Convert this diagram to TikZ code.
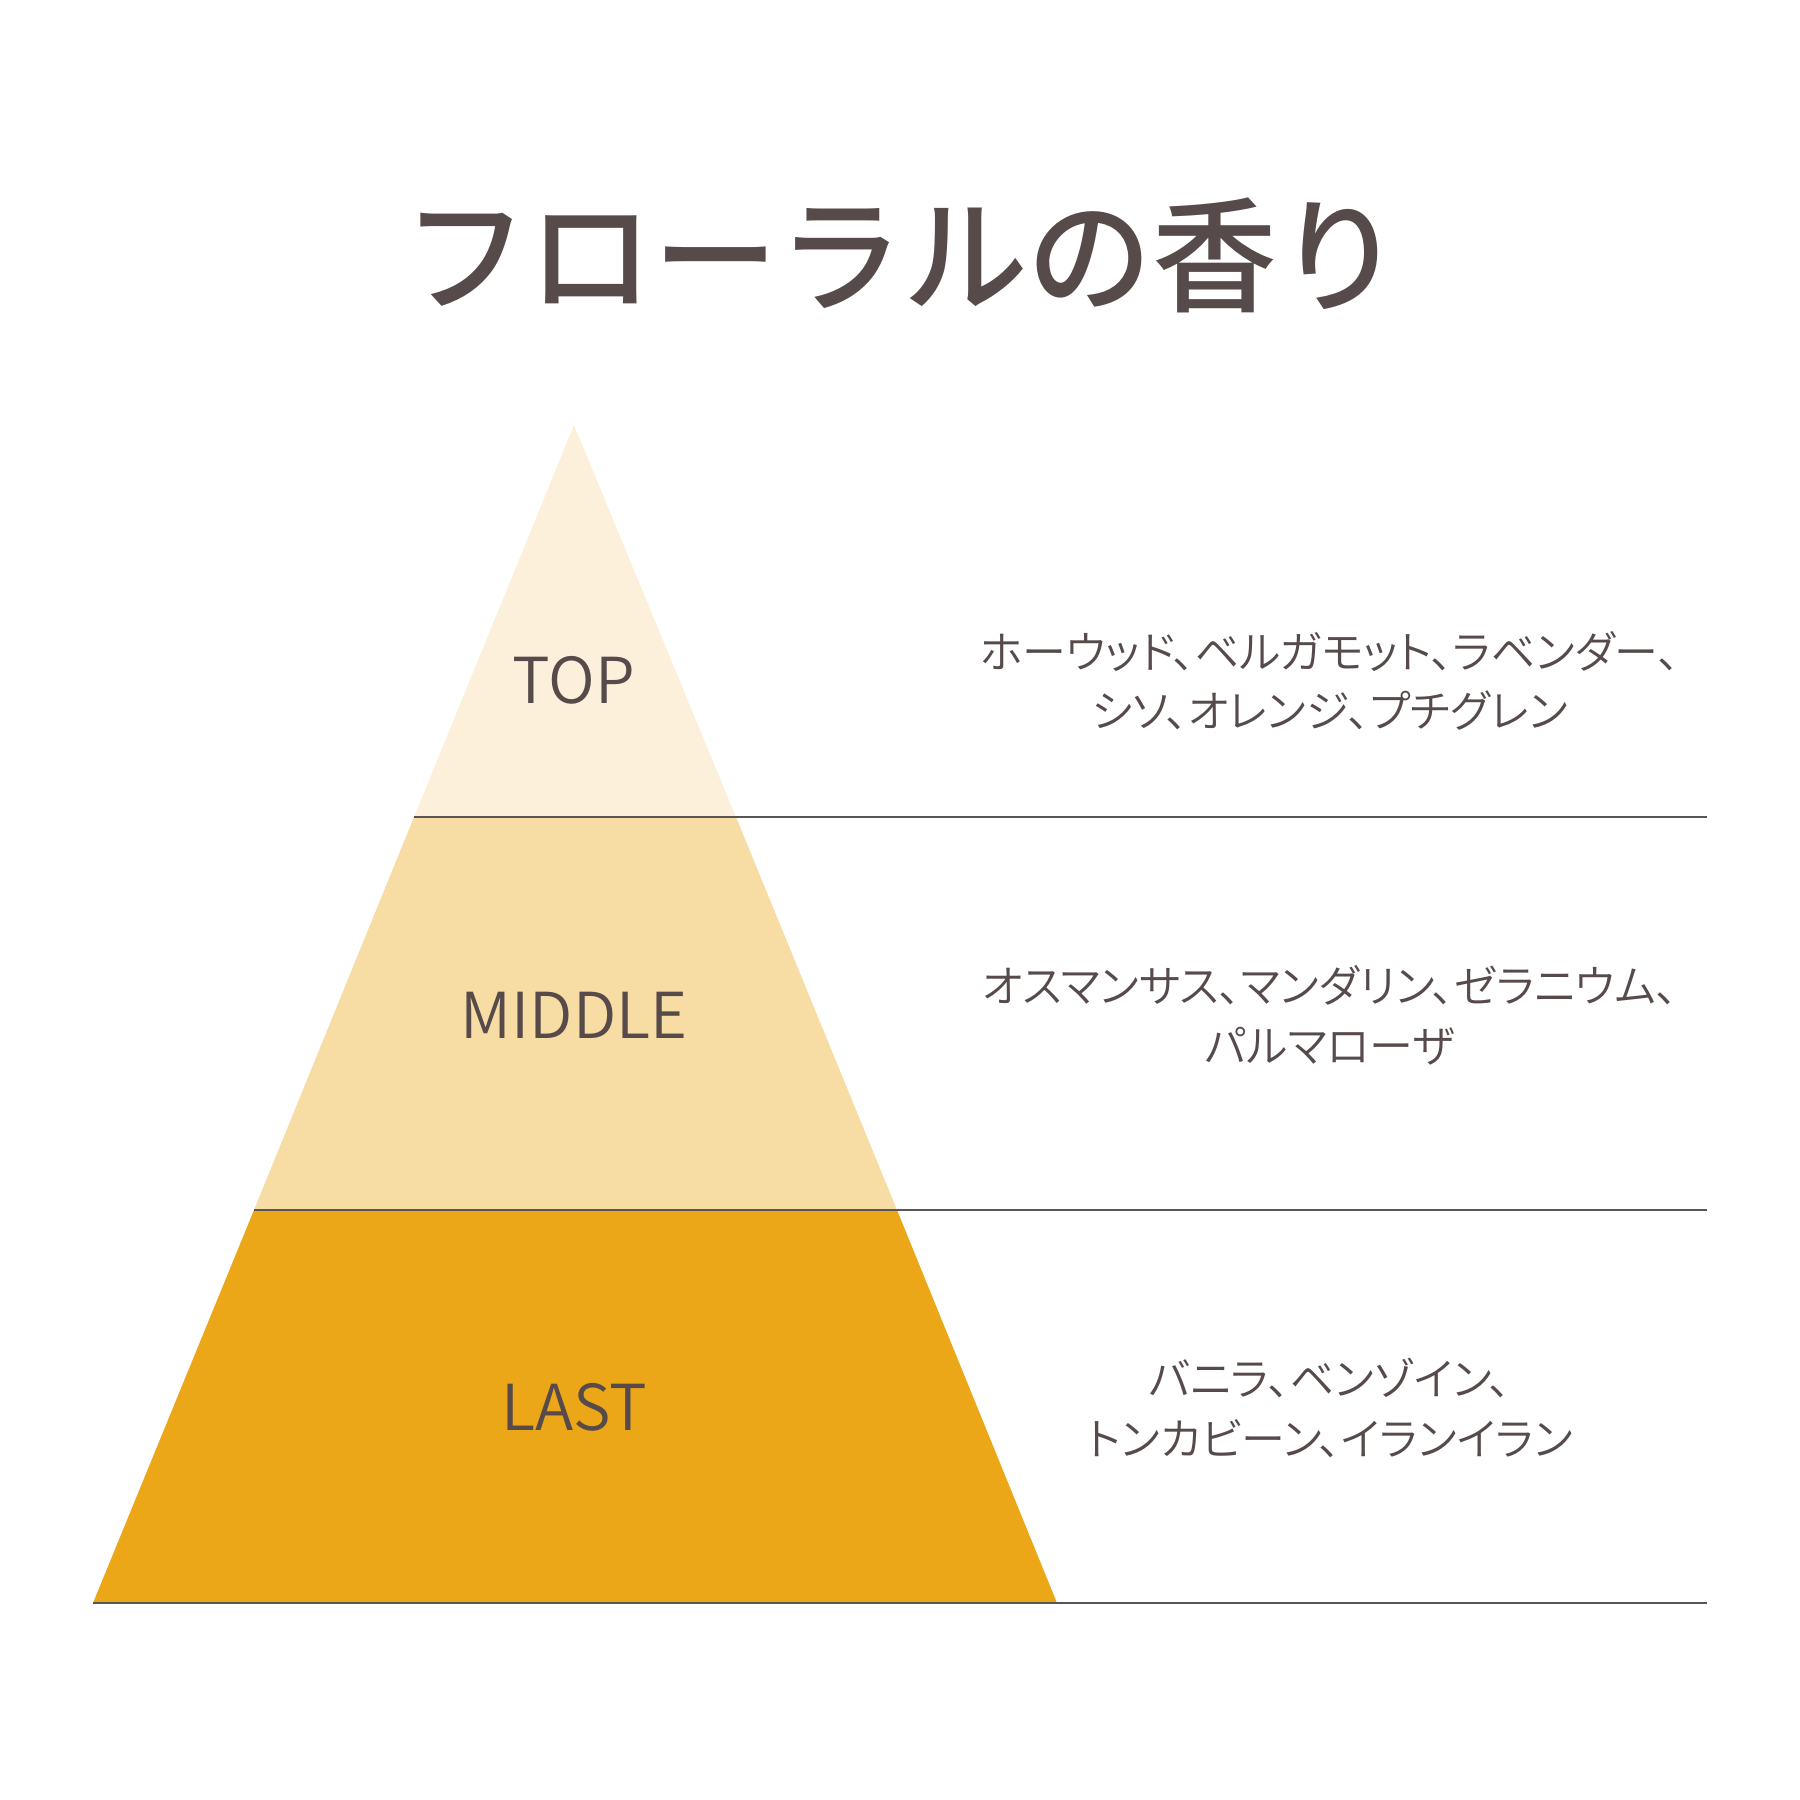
\documentclass[tikz,border=0pt]{standalone}
\usepackage{fontspec}
\setmainfont{Noto Sans CJK JP}
\newfontfamily\titlefont{Noto Sans CJK JP Medium}
\newfontfamily\lightfont{Noto Sans CJK JP DemiLight}
\newfontfamily\notefont[RawFeature=+palt]{Noto Sans CJK JP DemiLight}
\usetikzlibrary{positioning}

\definecolor{textbrown}{HTML}{574A4A}
\definecolor{topfill}{HTML}{FCF0DA}
\definecolor{midfill}{HTML}{F7DCA4}
\definecolor{lastfill}{HTML}{ECA718}
\definecolor{rulegray}{HTML}{5A5555}

\begin{document}
\begin{tikzpicture}[
x=0.01cm, y=-0.01cm,
level/.style={font=\lightfont\fontsize{18}{22}\selectfont, text=textbrown},
notes/.style={font=\notefont\fontsize{12.5}{17}\selectfont, text=textbrown, align=center},
rule/.style={draw=rulegray, line width=0.5pt}
]
\useasboundingbox (0,0) rectangle (1800,1800);

% Title
\node[font=\titlefont\fontsize{35.5}{40}\selectfont, text=textbrown] (title) at (903,255) {フローラルの香り};

% Pyramid corners
\coordinate (apex) at (574,425);
\coordinate (topL) at (414,817);
\coordinate (topR) at (736,817);
\coordinate (midL) at (254,1210);
\coordinate (midR) at (897,1210);
\coordinate (baseL) at (93,1603);
\coordinate (baseR) at (1057,1603);
\coordinate (topEnd) at (1707,817);
\coordinate (midEnd) at (1707,1210);
\coordinate (baseEnd) at (1707,1603);

% Layers
\fill[topfill] (apex) -- (topR) -- (topL) -- cycle;
\fill[midfill] (topL) -- (topR) -- (midR) -- (midL) -- cycle;
\fill[lastfill] (midL) -- (midR) -- (baseR) -- (baseL) -- cycle;

% Rules
\draw[rule] (topL) -- (topEnd);
\draw[rule] (midL) -- (midEnd);
\draw[rule] (baseL) -- (baseEnd);

% Level names
\node[level] (top) at (574,680) {TOP};
\node[level] (middle) at (574,1015) {MIDDLE};
\node[level] (last) at (574,1407) {LAST};

% Notes
\node[notes] (topnotes) at (1330,681) {ホーウッド、ベルガモット、ラベンダー、\\シソ、オレンジ、プチグレン};
\node[notes] (midnotes) at (1330,1015) {オスマンサス、マンダリン、ゼラニウム、\\パルマローザ};
\node[notes] (lastnotes) at (1330,1408) {バニラ、ベンゾイン、\\トンカビーン、イランイラン};

\end{tikzpicture}
\end{document}
